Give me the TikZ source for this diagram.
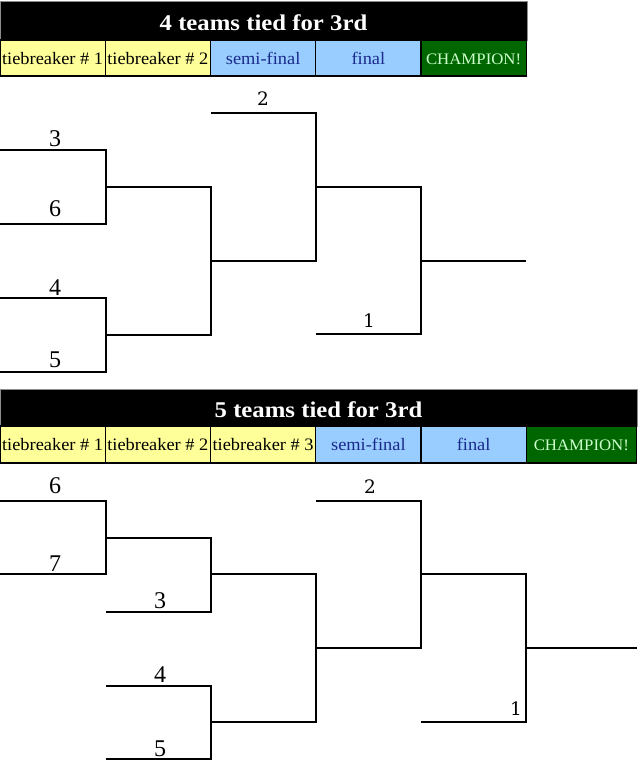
\documentclass[tikz,border=0pt]{standalone}
\usepackage{fontspec}
\setmainfont{Liberation Serif}
\newfontfamily\titlefont[FakeStretch=1.1]{Liberation Serif}
\newfontfamily\cellfont[FakeStretch=1.05]{Liberation Serif}
\newfontfamily\digfont{DejaVu Serif}
\definecolor{yellowc}{HTML}{FFFF99}
\definecolor{bluec}{HTML}{99CCFF}
\definecolor{greenc}{HTML}{006600}
\definecolor{navytext}{HTML}{1A2A8C}
\definecolor{champtext}{HTML}{CCFFCC}
\tikzset{
  titlebar/.style={fill=black, draw=black!45, line width=1pt, inner sep=0pt, outer sep=0pt,
    text=white, text height=19pt, text depth=0pt, font=\titlefont\bfseries\fontsize{22.5}{22.5}\selectfont},
  cell/.style={draw=black, line width=1.4pt, inner sep=0pt, outer sep=0pt,
    text height=12pt, text depth=0pt, font=\cellfont\fontsize{17.5}{17.5}\selectfont},
  tbcell/.style={cell, fill=yellowc, text=black},
  rdcell/.style={cell, fill=bluec, text=navytext},
  chcell/.style={cell, fill=greenc, text=champtext, font=\cellfont\fontsize{16}{16}\selectfont},
  bline/.style={line width=2.2pt, draw=black, line join=miter},
  seedbig/.style={anchor=base, inner sep=0pt, font=\fontsize{24}{24}\selectfont},
  seedsmall/.style={anchor=base, inner sep=0pt, font=\digfont\fontsize{18.5}{18.5}\selectfont}
}
\begin{document}
\begin{tikzpicture}[x=1pt, y=-1pt]
\useasboundingbox (0,0) rectangle (640,764);
\fill[white] (0,0) rectangle (640,764);

% ===== Header 1 =====
\node[titlebar, minimum width=527pt, minimum height=39pt] (t1) at (263.5,20.5) {4 teams tied for 3rd};
\node[tbcell, minimum width=105.25pt, minimum height=36pt] (h1a) at (52.625,58) {tiebreaker \# 1};
\node[tbcell, minimum width=105.25pt, minimum height=36pt] (h1b) at (157.875,58) {tiebreaker \# 2};
\node[rdcell, minimum width=105.25pt, minimum height=36pt] (h1c) at (263.125,58) {semi-final};
\node[rdcell, minimum width=105.25pt, minimum height=36pt] (h1d) at (368.375,58) {final};
\node[chcell, minimum width=105.25pt, minimum height=36pt] (h1e) at (473.625,58) {CHAMPION!};

% ===== Bracket 1 =====
\coordinate (A3s) at (0,150);   \coordinate (A3e) at (106,150);
\coordinate (A6s) at (0,224);   \coordinate (A6e) at (106,224);
\coordinate (A36) at (106,187); \coordinate (A36e) at (211,187);
\coordinate (A4s) at (0,298);   \coordinate (A4e) at (106,298);
\coordinate (A5s) at (0,372);   \coordinate (A5e) at (106,372);
\coordinate (A45) at (106,335); \coordinate (A45e) at (211,335);
\coordinate (AS) at (211,261);  \coordinate (ASe) at (316,261);
\coordinate (A2s) at (211,113); \coordinate (A2e) at (316,113);
\coordinate (AF) at (316,187);  \coordinate (AFe) at (421,187);
\coordinate (A1s) at (316,334); \coordinate (A1e) at (421,334);
\coordinate (AC) at (421,261);  \coordinate (ACe) at (526,261);

\draw[bline] (A3s) -- (A3e) -- (A6e) -- (A6s);
\draw[bline] (A4s) -- (A4e) -- (A5e) -- (A5s);
\draw[bline] (A36) -- (A36e) -- (A45e) -- (A45);
\draw[bline] (A2s) -- (A2e) -- (ASe) -- (AS);
\draw[bline] (AF) -- (AFe) -- (A1e) -- (A1s);
\draw[bline] (AC) -- (ACe);

\node[seedbig] (n3a) at (55,146) {3};
\node[seedbig] (n6a) at (55,216) {6};
\node[seedbig] (n4a) at (55,295) {4};
\node[seedbig] (n5a) at (55,367) {5};
\node[seedsmall] (n2a) at (263,105) {2};
\node[seedsmall] (n1a) at (369,327) {1};

% ===== Header 2 =====
\node[titlebar, minimum width=637pt, minimum height=37pt] (t2) at (318.5,407.5) {5 teams tied for 3rd};
\node[tbcell, minimum width=105.25pt, minimum height=37pt] (h2a) at (52.625,444.5) {tiebreaker \# 1};
\node[tbcell, minimum width=105.25pt, minimum height=37pt] (h2b) at (157.875,444.5) {tiebreaker \# 2};
\node[tbcell, minimum width=105.25pt, minimum height=37pt] (h2c) at (263.125,444.5) {tiebreaker \# 3};
\node[rdcell, minimum width=105.25pt, minimum height=37pt] (h2d) at (368.375,444.5) {semi-final};
\node[rdcell, minimum width=105.25pt, minimum height=37pt] (h2e) at (473.625,444.5) {final};
\node[chcell, minimum width=110.25pt, minimum height=37pt] (h2f) at (581.375,444.5) {CHAMPION!};

% ===== Bracket 2 =====
\coordinate (B6s) at (0,501);   \coordinate (B6e) at (106,501);
\coordinate (B7s) at (0,574);   \coordinate (B7e) at (106,574);
\coordinate (B67) at (106,538); \coordinate (B67e) at (211,538);
\coordinate (B3s) at (106,612); \coordinate (B3e) at (211,612);
\coordinate (BT) at (211,574);  \coordinate (BTe) at (316,574);
\coordinate (B4s) at (106,686); \coordinate (B4e) at (211,686);
\coordinate (B5s) at (106,759); \coordinate (B5e) at (211,759);
\coordinate (B45) at (211,722); \coordinate (B45e) at (316,722);
\coordinate (BS) at (316,648);  \coordinate (BSe) at (421,648);
\coordinate (B2s) at (316,501); \coordinate (B2e) at (421,501);
\coordinate (BF) at (421,574);  \coordinate (BFe) at (526,574);
\coordinate (B1s) at (421,722); \coordinate (B1e) at (526,722);
\coordinate (BC) at (526,648);  \coordinate (BCe) at (637,648);

\draw[bline] (B6s) -- (B6e) -- (B7e) -- (B7s);
\draw[bline] (B67) -- (B67e) -- (B3e) -- (B3s);
\draw[bline] (B4s) -- (B4e) -- (B5e) -- (B5s);
\draw[bline] (BT) -- (BTe) -- (B45e) -- (B45);
\draw[bline] (B2s) -- (B2e) -- (BSe) -- (BS);
\draw[bline] (BF) -- (BFe) -- (B1e) -- (B1s);
\draw[bline] (BC) -- (BCe);

\node[seedbig] (n6b) at (55,493) {6};
\node[seedbig] (n7b) at (55,571) {7};
\node[seedbig] (n3b) at (160,608) {3};
\node[seedbig] (n4b) at (160,682) {4};
\node[seedbig] (n5b) at (160,756) {5};
\node[seedsmall] (n2b) at (370,493) {2};
\node[seedsmall] (n1b) at (516,715) {1};
\end{tikzpicture}
\end{document}
